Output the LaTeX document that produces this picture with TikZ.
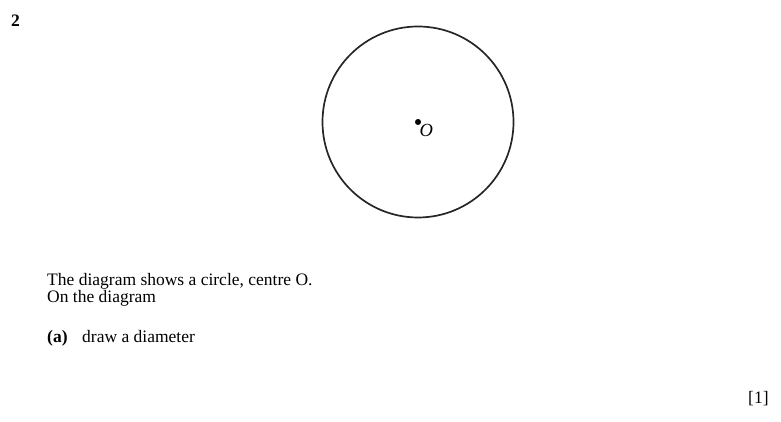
\documentclass[tikz,border=0pt]{standalone}
\usepackage{fontspec}
\setmainfont{Liberation Serif}
\usepackage{tkz-euclide}

\tikzset{
  qtext/.style={anchor=base west,inner sep=0pt,font=\fontsize{17.5}{21}\selectfont},
}

\begin{document}
\begin{tikzpicture}[x=1pt,y=1pt]
  \useasboundingbox (0,0) rectangle (781,422);
  \tkzDefPoints{418/300/O, 513.5/300/A}
  
  \tkzDrawCircle[line width=1.7pt,color=black!85](O,A)
  \tkzDrawPoints[size=5.5,fill=black](O)
  \node[anchor=north west,inner sep=0pt,font=\fontsize{18.5}{21}\selectfont\itshape]
    (labO) at ([xshift=1.5pt,yshift=-2.5pt]O) {O};
  
  \node[qtext,font=\fontsize{17.5}{21}\selectfont\bfseries] (qnum) at (11,395) {2};
  \node[qtext] (line1) at (47,136) {The diagram shows a circle, centre O.};
  \node[qtext] (line2) at (47,119) {On the diagram};
  \node[qtext,font=\fontsize{17.5}{21}\selectfont\bfseries] (parta) at (47,79) {(a)};
  \node[qtext] (taska) at (82,79) {draw a diameter};
  \node[qtext] (mark) at (748,18) {[1]};
  
\end{tikzpicture}
\end{document}
